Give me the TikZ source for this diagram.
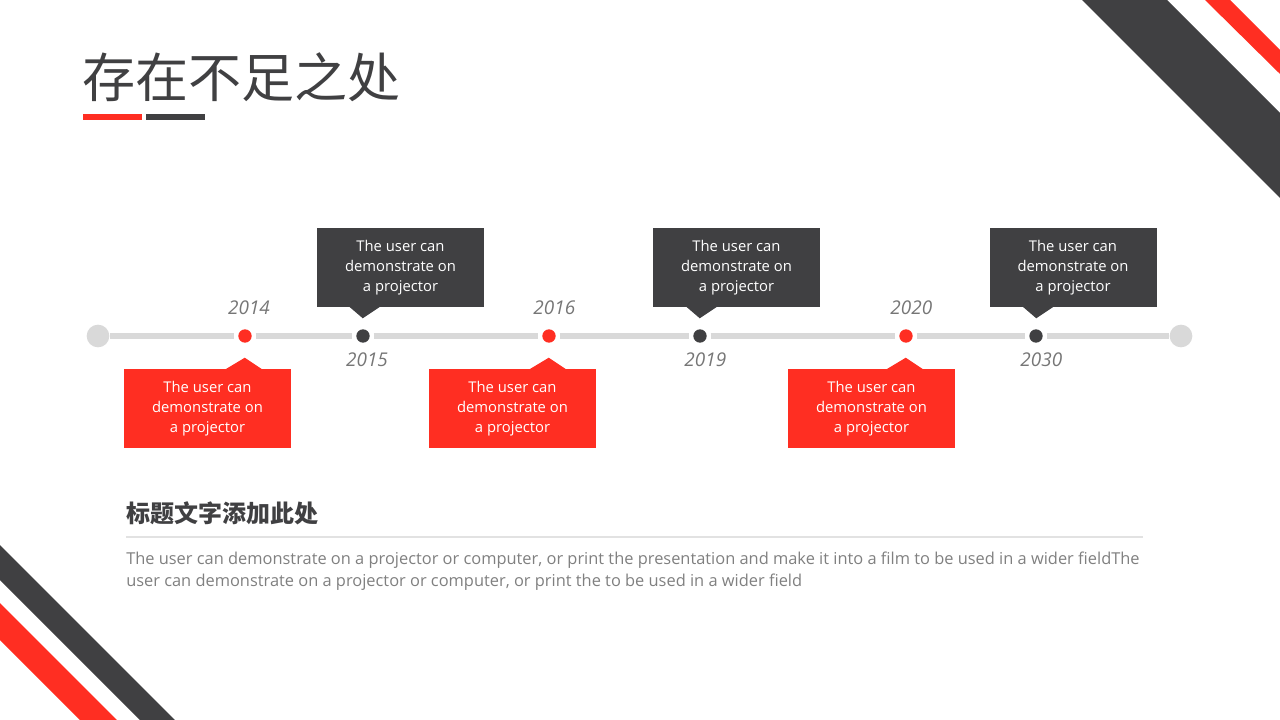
\documentclass[tikz,border=0pt]{standalone}
\usepackage{fontspec}
\setmainfont{Open Sans}
\newfontfamily\cjk{Noto Sans CJK SC}
\usepackage{xcolor}
\usepackage{tikz}
\usetikzlibrary{positioning}

\definecolor{accent}{RGB}{255,46,34}
\definecolor{darkc}{RGB}{64,64,66}
\definecolor{linegray}{RGB}{217,217,217}
\definecolor{yeargray}{RGB}{118,118,118}
\definecolor{bodygray}{RGB}{128,128,128}
\definecolor{rulegray}{RGB}{226,226,226}

\tikzset{
  dot/.style={circle, inner sep=0pt, minimum size=10pt, outer sep=3pt},
  enddot/.style={circle, fill=linegray, inner sep=0pt, minimum size=17pt},
  tline/.style={linegray, line width=4.5pt},
  year/.style={text=yeargray, inner sep=0pt, font=\itshape\fontsize{14.2}{14}\selectfont},
  note/.style={minimum width=125.25pt, minimum height=59.25pt, inner sep=0pt,
    text=white, align=center, font=\fontsize{11.1}{15}\selectfont},
}

\begin{document}
\begin{tikzpicture}[x=0.75pt, y=-0.75pt]
    \useasboundingbox (0,0) rectangle (1280,720);

    % corner stripes
    \fill[darkc] (1082,0) -- (1167,0) -- (1280,113) -- (1280,198) -- cycle;
    \fill[accent] (1205,0) -- (1230,0) -- (1280,50) -- (1280,74) -- cycle;
    \fill[darkc] (0,545) -- (175,720) -- (140,720) -- (0,580) -- cycle;
    \fill[accent] (0,603) -- (117,720) -- (80,720) -- (0,640) -- cycle;

    % title
    \node[anchor=west, inner sep=0pt, text=darkc, font=\cjk\fontsize{39.8}{40}\selectfont] (title) at (82,77) {存在不足之处};
    \fill[accent] (83,114) rectangle (142,120);
    \fill[darkc] (146,114) rectangle (205,120);

    % timeline
    \node[enddot] (s) at (98,336) {};
    \node[enddot] (e) at (1181,336) {};
    \node[dot, fill=accent] (d14) at (245,336) {};
    \node[dot, fill=darkc] (d15) at (363,336) {};
    \node[dot, fill=accent] (d16) at (549,336) {};
    \node[dot, fill=darkc] (d19) at (700,336) {};
    \node[dot, fill=accent] (d20) at (906,336) {};
    \node[dot, fill=darkc] (d30) at (1036,336) {};
    \draw[tline] (s) -- (d14) (d14) -- (d15) (d15) -- (d16) (d16) -- (d19)
        (d19) -- (d20) (d20) -- (d30) (d30) -- (e);

    % years
    \node[year, above=8pt of d14, xshift=3pt] (y14) {2014};
    \node[year, below=4.5pt of d15, xshift=3pt] (y15) {2015};
    \node[year, above=8pt of d16, xshift=4pt] (y16) {2016};
    \node[year, below=4.5pt of d19, xshift=4pt] (y19) {2019};
    \node[year, above=8pt of d20, xshift=4pt] (y20) {2020};
    \node[year, below=4.5pt of d30, xshift=4pt] (y30) {2030};

    % boxes above (dark)
    \node[note, fill=darkc] (n15) at (400.5,267.5) {The user can\\demonstrate on\\a projector};
    \fill[darkc] (n15.south west) ++(32,-1) -- ++(14,12) -- ++(18,-12) -- cycle;
    \node[note, fill=darkc] (n19) at (736.5,267.5) {The user can\\demonstrate on\\a projector};
    \fill[darkc] (n19.south west) ++(33,-1) -- ++(14,12) -- ++(18,-12) -- cycle;
    \node[note, fill=darkc] (n30) at (1073,267.5) {The user can\\demonstrate on\\a projector};
    \fill[darkc] (n30.south west) ++(33,-1) -- ++(14,12) -- ++(18,-12) -- cycle;

    % boxes below (red)
    \node[note, fill=accent] (n14) at (207.5,408.5) {The user can\\demonstrate on\\a projector};
    \fill[accent] (n14.north west) ++(101,1) -- ++(20,-12) -- ++(18,12) -- cycle;
    \node[note, fill=accent] (n16) at (512.5,408.5) {The user can\\demonstrate on\\a projector};
    \fill[accent] (n16.north west) ++(100,1) -- ++(20,-12) -- ++(18,12) -- cycle;
    \node[note, fill=accent] (n20) at (871.5,408.5) {The user can\\demonstrate on\\a projector};
    \fill[accent] (n20.north west) ++(98,1) -- ++(20,-12) -- ++(18,12) -- cycle;

    % text
    \node[anchor=west, inner sep=0pt, text=darkc, font=\cjk\bfseries\fontsize{18}{18}\selectfont] (head) at (126,513) {标题文字添加此处};
    \draw[rulegray, line width=1pt] (126,537) -- (1143,537);
    \node[anchor=north west, inner sep=0pt, align=left, text=bodygray, font=\fontsize{12.3}{16.5}\selectfont] (body) at (126,552)
        {The user can demonstrate on a projector or computer, or print the presentation and make it into a film to be used in a wider fieldThe\\
         user can demonstrate on a projector or computer, or print the to be used in a wider field};
\end{tikzpicture}
\end{document}
